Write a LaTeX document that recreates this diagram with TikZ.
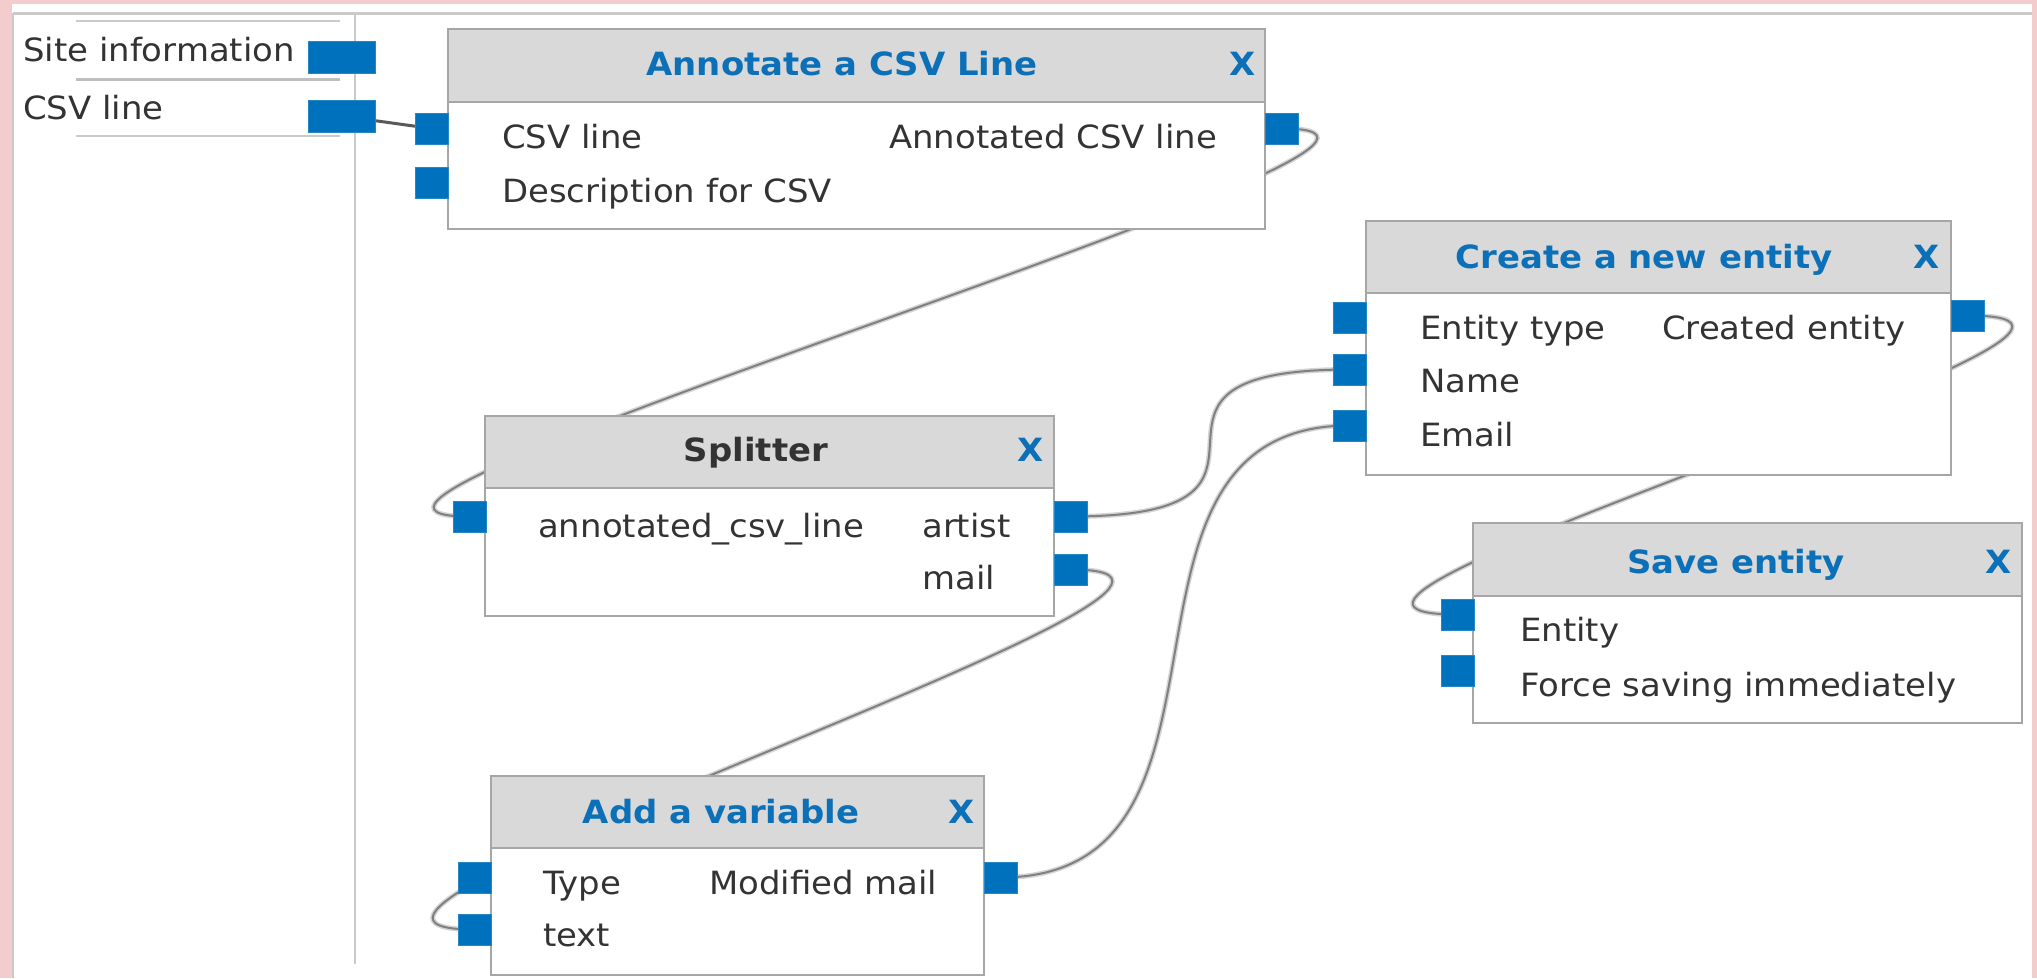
\documentclass[tikz,border=0pt]{standalone}
\usepackage{fontspec}
\setmainfont{DejaVu Sans}[FakeStretch=1.06]
\definecolor{pinkbg}{HTML}{F3CDCE}
\definecolor{framegray}{HTML}{CACACA}
\definecolor{boxgray}{HTML}{A6A6A6}
\definecolor{headgray}{HTML}{D9D9D9}
\definecolor{portblue}{HTML}{0071BC}
\definecolor{titleblue}{HTML}{0B70B8}
\definecolor{txt}{HTML}{333333}
\definecolor{wirecol}{HTML}{808080}
\definecolor{halocol}{HTML}{D4D4D4}
\begin{document}
\begin{tikzpicture}[x=1pt,y=-1pt,
  port/.style={fill=portblue, draw=portblue!85!white, line width=0.8pt, inner sep=0pt, outer sep=0pt, minimum width=33pt, minimum height=31pt, anchor=north west},
  lport/.style={port, minimum width=67pt, minimum height=32pt},
  boxbody/.style={draw=boxgray, line width=2pt, fill=white, inner sep=0pt, outer sep=0pt, anchor=north west},
  boxhead/.style={draw=boxgray, line width=2pt, fill=headgray, inner sep=0pt, outer sep=0pt, anchor=north west, minimum height=73pt},
  title/.style={font=\fontsize{32}{38}\selectfont\bfseries, text=titleblue, anchor=base, inner sep=0pt},
  closex/.style={title},
  lbl/.style={font=\fontsize{32}{38}\selectfont, text=txt, anchor=base west, inner sep=0pt},
  wire/.style={draw=wirecol, line width=2pt, preaction={draw=halocol, line width=5pt}},
  firstwire/.style={draw=black!65, line width=3pt},
  sep/.style={draw=framegray, line width=2pt},
]
\useasboundingbox (0,0) rectangle (2037,978);
% canvas
\fill[pinkbg] (0,0) rectangle (2037,978);
\fill[white] (12,4) rectangle (2032,978);
\draw[sep, line width=3pt] (13,13) -- (2032,13);
\draw[sep] (13,13) -- (13,978);
% left panel
\draw[sep] (355,13) -- (355,964);
\draw[sep] (76,21) -- (340,21);
\draw[sep, draw=black!25, line width=3pt] (76,79) -- (340,79);
\draw[sep] (76,136) -- (340,136);
\node[lbl] (Lt1) at (23,61) {Site information};
\node[lbl] (Lt2) at (23,119) {CSV line};

% port nodes defined first (invisible) for wiring
\path
  (308,41) node[lport] (L1) {}
  (308,100) node[lport] (L2) {}
  (415,113) node[port] (Ai1) {}
  (415,167) node[port] (Ai2) {}
  (1265,113) node[port] (Ao1) {}
  (453,501) node[port] (Si1) {}
  (1054,501) node[port] (So1) {}
  (1054,554) node[port] (So2) {}
  (1333,302) node[port] (Ci1) {}
  (1333,354) node[port] (Ci2) {}
  (1333,410) node[port] (Ci3) {}
  (1951,300) node[port] (Co1) {}
  (1441,599) node[port] (Vi1) {}
  (1441,655) node[port] (Vi2) {}
  (458,862) node[port] (Di1) {}
  (458,914) node[port] (Di2) {}
  (984,862) node[port] (Do1) {};

% wires
\draw[firstwire] (L2.center) -- (Ai1.center);
\draw[wire] (Ao1.center) .. controls +(270,0) and +(-270,0) .. (Si1.center);
\draw[wire] (So1.center) .. controls +(270,0) and +(-270,0) .. (Ci2.center);
\draw[wire] (So2.center) .. controls +(270,0) and +(-270,0) .. (Di2.center);
\draw[wire] (Do1.center) .. controls +(270,0) and +(-270,0) .. (Ci3.center);
\draw[wire] (Co1.center) .. controls +(270,0) and +(-270,0) .. (Vi1.center);

% Annotate a CSV Line
\node[boxbody, minimum width=817pt, minimum height=200pt] (A) at (448,29) {};
\node[boxhead, minimum width=817pt] (Ah) at (448,29) {};
\node[title] (At) at (842,75) {Annotate a CSV Line};
\node[closex] (Ax) at (1243,75) {X};
\node[lbl] (Al1) at (502,148) {CSV line};
\node[lbl] (Al2) at (502,202) {Description for CSV};
\node[lbl] (Ar1) at (889,148) {Annotated CSV line};

% Splitter
\node[boxbody, minimum width=569pt, minimum height=200pt] (S) at (485,416) {};
\node[boxhead, minimum width=569pt, minimum height=72pt] (Sh) at (485,416) {};
\node[title, text=txt] (St) at (756,461) {Splitter};
\node[closex] (Sx) at (1031,461) {X};
\node[lbl] (Sl1) at (538,537) {annotated\_csv\_line};
\node[lbl] (Sr1) at (922,537) {artist};
\node[lbl] (Sr2) at (922,589) {mail};

% Create a new entity
\node[boxbody, minimum width=585pt, minimum height=254pt] (C) at (1366,221) {};
\node[boxhead, minimum width=585pt, minimum height=72pt] (Ch) at (1366,221) {};
\node[title] (Ct) at (1644,268) {Create a new entity};
\node[closex] (Cx) at (1927,268) {X};
\node[lbl] (Cl1) at (1420,339) {Entity type};
\node[lbl] (Cl2) at (1420,392) {Name};
\node[lbl] (Cl3) at (1420,446) {Email};
\node[lbl] (Cr1) at (1662,339) {Created entity};

% Save entity
\node[boxbody, minimum width=549pt, minimum height=200pt] (V) at (1473,523) {};
\node[boxhead, minimum width=549pt] (Vh) at (1473,523) {};
\node[title] (Vt) at (1736,573) {Save entity};
\node[closex] (Vx) at (1999,573) {X};
\node[lbl] (Vl1) at (1520,641) {Entity};
\node[lbl] (Vl2) at (1520,696) {Force saving immediately};

% Add a variable
\node[boxbody, minimum width=493pt, minimum height=199pt] (D) at (491,776) {};
\node[boxhead, minimum width=493pt, minimum height=72pt] (Dh) at (491,776) {};
\node[title] (Dt) at (721,823) {Add a variable};
\node[closex] (Dx) at (962,823) {X};
\node[lbl] (Dl1) at (543,894) {Type};
\node[lbl] (Dl2) at (543,946) {text};
\node[lbl] (Dr1) at (709,894) {Modified mail};

% ports drawn on top
\path
  (308,41) node[lport] (L1v) {}
  (308,100) node[lport] (L2v) {}
  (415,113) node[port] (Ai1v) {}
  (415,167) node[port] (Ai2v) {}
  (1265,113) node[port] (Ao1v) {}
  (453,501) node[port] (Si1v) {}
  (1054,501) node[port] (So1v) {}
  (1054,554) node[port] (So2v) {}
  (1333,302) node[port] (Ci1v) {}
  (1333,354) node[port] (Ci2v) {}
  (1333,410) node[port] (Ci3v) {}
  (1951,300) node[port] (Co1v) {}
  (1441,599) node[port] (Vi1v) {}
  (1441,655) node[port] (Vi2v) {}
  (458,862) node[port] (Di1v) {}
  (458,914) node[port] (Di2v) {}
  (984,862) node[port] (Do1v) {};
\end{tikzpicture}
\end{document}
